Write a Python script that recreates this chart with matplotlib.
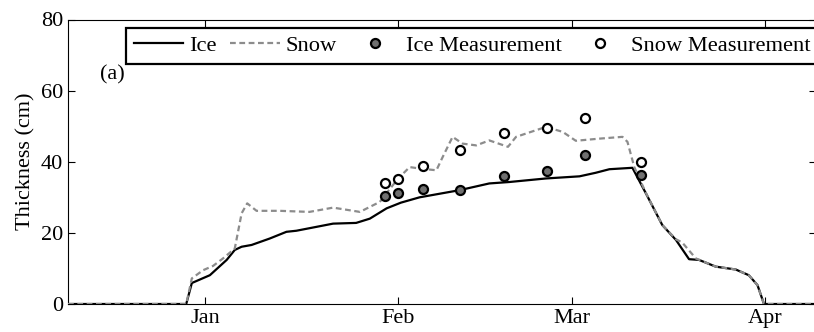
import matplotlib.pyplot as plt

# days counted from 1 Jan
ice_day = [-22, -3, -2.1, 0.8, 3.5, 4.8, 5.9, 7.5, 10.4, 13.1, 14.7, 20.6, 24.3, 26.5,
           29.2, 31.5, 34.5, 40.9, 45.7, 48.9, 54.8, 60.2, 62.8, 65.0, 68.7, 70.9,
           73.5, 75.7, 77.8, 79.4, 82.1, 85.3, 87.4, 88.8, 89.8, 90, 100]
ice_cm = [0, 0, 5.9, 8.1, 12.4, 15.2, 16.1, 16.6, 18.4, 20.3, 20.6, 22.6, 22.8, 24.0,
          26.9, 28.5, 30.0, 32.0, 33.9, 34.3, 35.3, 35.9, 36.9, 37.9, 38.3, 31.0,
          22.2, 18.0, 12.6, 12.4, 10.5, 9.7, 8.1, 5.3, 0.2, 0, 0]

snow_day = [-22, -3, -2.1, -0.3, 1.3, 2.9, 4.8, 5.9, 6.8, 8.3, 12.0, 16.8, 20.6, 24.9,
            28.1, 31.0, 32.9, 34.5, 37.2, 38.2, 39.8, 41.4, 43.6, 45.7, 48.7, 50.0,
            54.8, 57.5, 59.6, 63.4, 67.1, 67.9, 69.0, 70.9, 73.5, 75.7, 76.7, 78.9,
            82.1, 85.3, 87.4, 88.8, 89.8, 90, 100]
snow_cm = [0, 0, 7.2, 9.5, 10.7, 12.8, 15.6, 25.5, 28.3, 26.2, 26.2, 25.9, 27.1, 25.9,
           28.7, 35.2, 38.5, 38.1, 37.6, 41.3, 47.0, 45.1, 44.6, 46.0, 44.2, 47.0,
           49.8, 48.4, 45.9, 46.5, 47.0, 45.6, 38.5, 31.1, 22.2, 18.2, 17.3, 12.8,
           10.5, 9.7, 8.1, 5.3, 0.2, 0, 0]

meas_day = [29, 31, 35, 41, 48, 55, 61, 70]
ice_meas = [30.3, 31.2, 32.2, 32.0, 36.1, 37.3, 42.0, 36.2]
snow_meas = [34.0, 35.1, 38.8, 43.4, 48.1, 49.6, 52.4, 40.0]

month_day = [0, 31, 59, 90]
month_lab = ["Jan", "Feb", "Mar", "Apr"]

plt.rcParams['font.family'] = ['Liberation Serif', 'DejaVu Serif']
plt.rcParams['font.size'] = 16

fig = plt.figure(figsize=(8.14, 3.32), dpi=100)
# right edge sits just outside the canvas, so the right spine is cut off
ax = fig.add_axes([68 / 814, 28 / 332, 748 / 814, 284.5 / 332])

ax.plot(ice_day, ice_cm, color="black", lw=1.6, label="Ice", zorder=2)
ax.plot(snow_day, snow_cm, color="#8c8c8c", lw=1.6, ls=(0, (2.6, 1.6)), label="Snow", zorder=3)
ax.plot(meas_day, ice_meas, ls="none", marker="o", ms=6.5, mew=1.6,
        mfc="#707070", mec="black", label="Ice Measurement", zorder=4)
ax.plot(meas_day, snow_meas, ls="none", marker="o", ms=6.5, mew=1.6,
        mfc="white", mec="black", label="Snow Measurement", zorder=4)

ax.set_xlim(-22, 98.2)
ax.set_ylim(0, 80)
ax.set_yticks([0, 20, 40, 60, 80])
ax.set_xticks(month_day)
ax.set_xticklabels(month_lab)
ax.tick_params(direction="in", top=True, right=True, length=5, width=0.8)
ax.set_ylabel("Thickness (cm)")
ax.text(-16.9, 64.4, "(a)", ha="left", va="center")

leg = ax.legend(loc="upper left", bbox_to_anchor=(125.7 / 814, 1 - 27.7 / 332),
                bbox_transform=fig.transFigure, ncol=4, frameon=True, fancybox=False,
                handlelength=2.2, handletextpad=0.25, columnspacing=0.62, borderaxespad=0,
                borderpad=0.35, fontsize=16.2)
leg.get_frame().set_edgecolor("black")
leg.get_frame().set_linewidth(1.6)
leg.get_frame().set_alpha(1)

fig.savefig("out.png", dpi=100)
